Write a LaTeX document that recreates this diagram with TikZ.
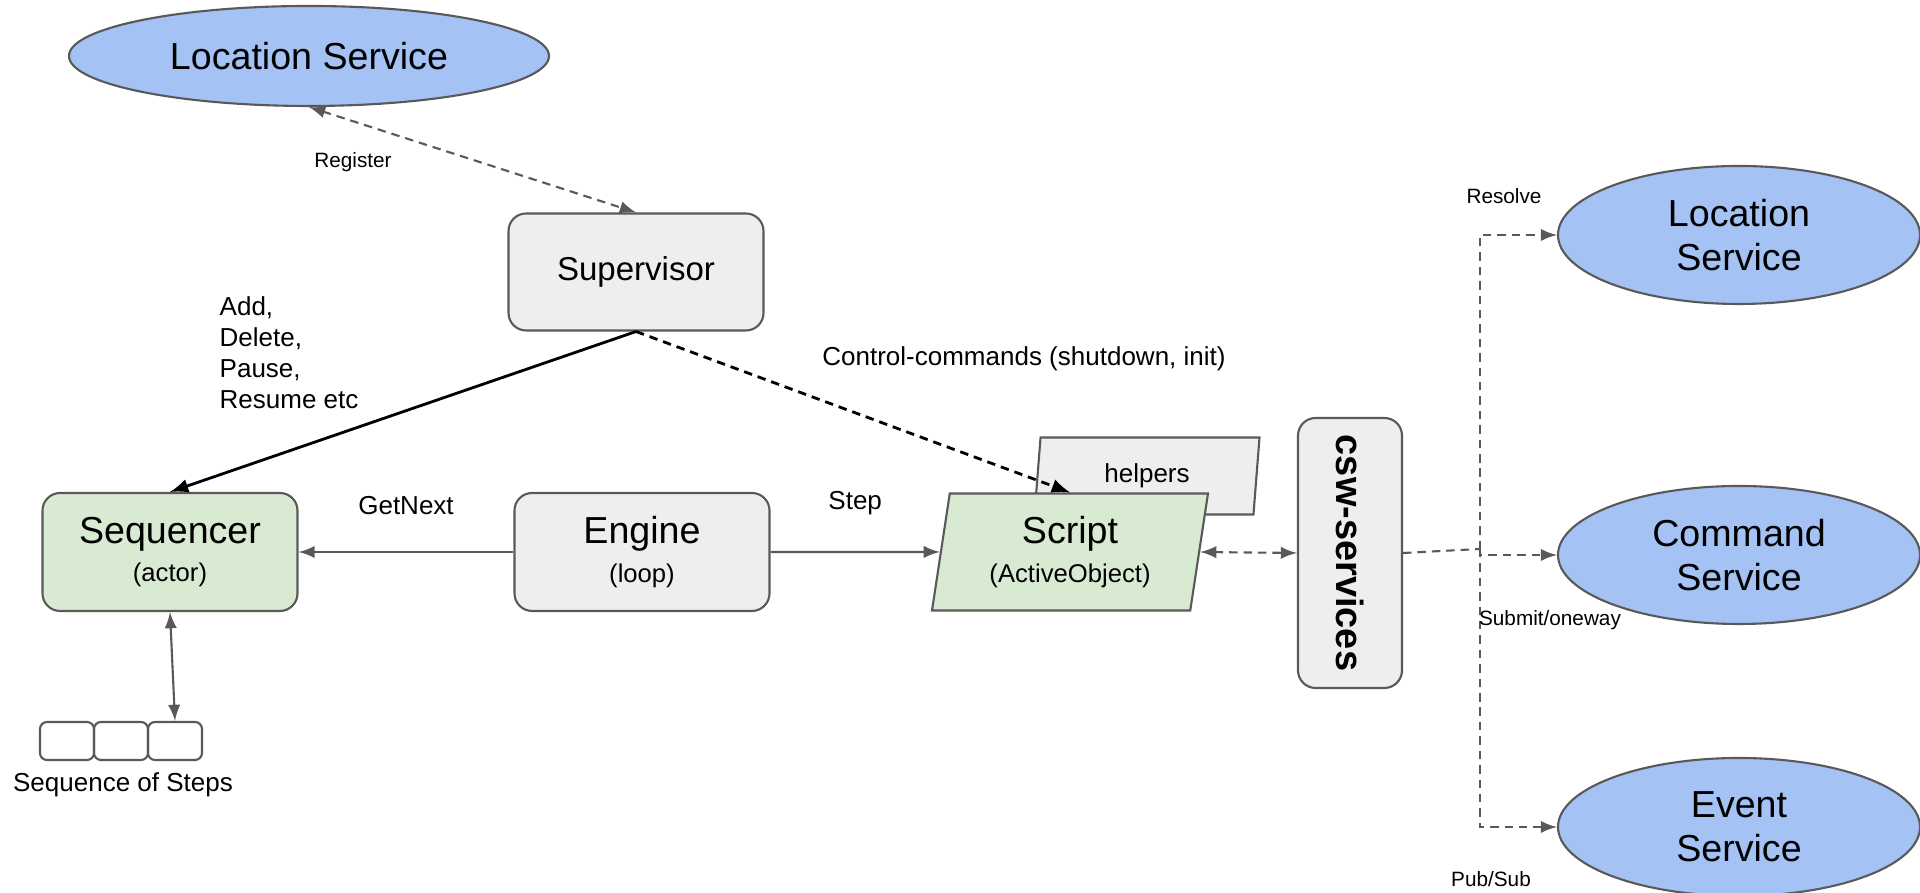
\documentclass[tikz,border=0pt]{standalone}
\usepackage{fontspec}
\setmainfont{Liberation Sans}
\usepackage{xcolor}
\usetikzlibrary{arrows,positioning,shapes.geometric}

\definecolor{svcblue}{HTML}{A4C2F4}
\definecolor{actgreen}{HTML}{D9EAD3}
\definecolor{boxgray}{HTML}{EEEEEE}
\definecolor{edgegray}{HTML}{595959}

\newcommand{\bigtxt}{\fontsize{10.7}{12.4}\selectfont}
\newcommand{\subtxt}{\fontsize{7.3}{8.6}\selectfont}
\newcommand{\midtxt}{\fontsize{7.4}{8.8}\selectfont}
\newcommand{\tinytxt}{\fontsize{5.9}{7}\selectfont}

\tikzset{
	rbox/.style={draw=edgegray, line width=0.6pt, rounded corners=5pt, fill=boxgray, align=center, inner sep=0pt},
	svc/.style={ellipse, draw=edgegray, line width=0.6pt, fill=svcblue, align=center, inner sep=0pt, font=\bigtxt},
	para/.style={trapezium, trapezium left angle=76, trapezium right angle=104, trapezium stretches body, draw=edgegray, line width=0.6pt, align=center, inner sep=0pt},
	gline/.style={draw=edgegray, line width=0.6pt},
	dsh/.style={dash pattern=on 2.4pt off 1.7pt},
}

\begin{document}
\begin{tikzpicture}
		\useasboundingbox (0,0) rectangle (19.2,8.93);
		% services
		\node[svc, minimum width=4.8cm, minimum height=1cm] (locTop) at (3.09,8.37) {Location Service};
		\node[svc, minimum width=3.62cm, minimum height=1.38cm] (locR) at (17.39,6.58) {Location\\Service};
		\node[svc, minimum width=3.62cm, minimum height=1.38cm] (cmd) at (17.39,3.38) {Command\\Service};
		\node[svc, minimum width=3.62cm, minimum height=1.38cm] (evt) at (17.39,0.66) {Event\\Service};
		% boxes
		\node[rbox, minimum width=2.55cm, minimum height=1.17cm, font={\fontsize{9.4}{11}\selectfont}] (sup) at (6.36,6.21) {Supervisor};
		\node[rbox, fill=actgreen, minimum width=2.55cm, minimum height=1.18cm] (seq) at (1.70,3.41) {\bigtxt Sequencer\\[-1pt]\subtxt (actor)};
		\node[rbox, minimum width=2.55cm, minimum height=1.18cm] (eng) at (6.42,3.41) {\bigtxt Engine\\[-1pt]\subtxt (loop)};
		\node[para, fill=boxgray, minimum width=2.25cm, minimum height=0.77cm, font=\midtxt] (hlp) at (11.47,4.17) {helpers};
		\node[para, fill=actgreen, minimum width=2.76cm, minimum height=1.17cm] (scr) at (10.70,3.41) {\bigtxt Script\\[-1pt]\subtxt (ActiveObject)};
		\node[rbox, rotate=-90, minimum width=2.70cm, minimum height=1.04cm, font={\fontsize{10.8}{12}\selectfont\bfseries}] (csw) at (13.50,3.40) {csw-services};
		% steps
		\foreach \i/\x in {1/0.67,2/1.21,3/1.75}
			\node[draw=edgegray, line width=0.6pt, rounded corners=2pt, minimum width=0.54cm, minimum height=0.38cm, inner sep=0pt] (st\i) at (\x,1.52) {};
		\node[font=\midtxt] at (1.23,1.08) {Sequence of Steps};
		% connectors
		\draw[gline, dsh, latex-latex] (locTop.south) -- (sup.north);
		\node[font=\tinytxt] at (3.53,7.31) {Register};
		\draw[thick, -latex] (sup.south) -- (seq.north);
		\node[font=\midtxt, align=left, anchor=west, inner sep=0pt] at (2.19,5.40) {Add,\\Delete,\\Pause,\\Resume etc};
		\draw[thick, dsh, -latex] (sup.south) -- (scr.north);
		\node[font=\midtxt] at (10.24,5.34) {Control-commands (shutdown, init)};
		\draw[gline, -latex] (eng.west) -- node[above=7pt, font=\midtxt, text=black] {GetNext} (seq.east);
		\draw[gline, -latex] (eng.east) -- node[above=7pt, font=\midtxt, text=black] {Step} (scr.west);
		\draw[gline, latex-latex] (st3.north) -- (seq.south);
		\draw[gline, dsh, latex-latex] (scr.east) -- (csw.south);
		\coordinate (trunk) at (14.80,3.44);
		\draw[gline, dsh] (csw.north) -- (trunk);
		\draw[gline, dsh, -latex] (trunk) |- (locR.west);
		\draw[gline, dsh, -latex] (trunk) |- (cmd.west);
		\draw[gline, dsh, -latex] (trunk) |- (evt.west);
		\node[font=\tinytxt] at (15.04,6.97) {Resolve};
		\node[font=\tinytxt] at (15.50,2.73) {Submit/oneway};
		\node[font=\tinytxt] at (14.91,0.14) {Pub/Sub};
		\end{tikzpicture}
\end{document}
